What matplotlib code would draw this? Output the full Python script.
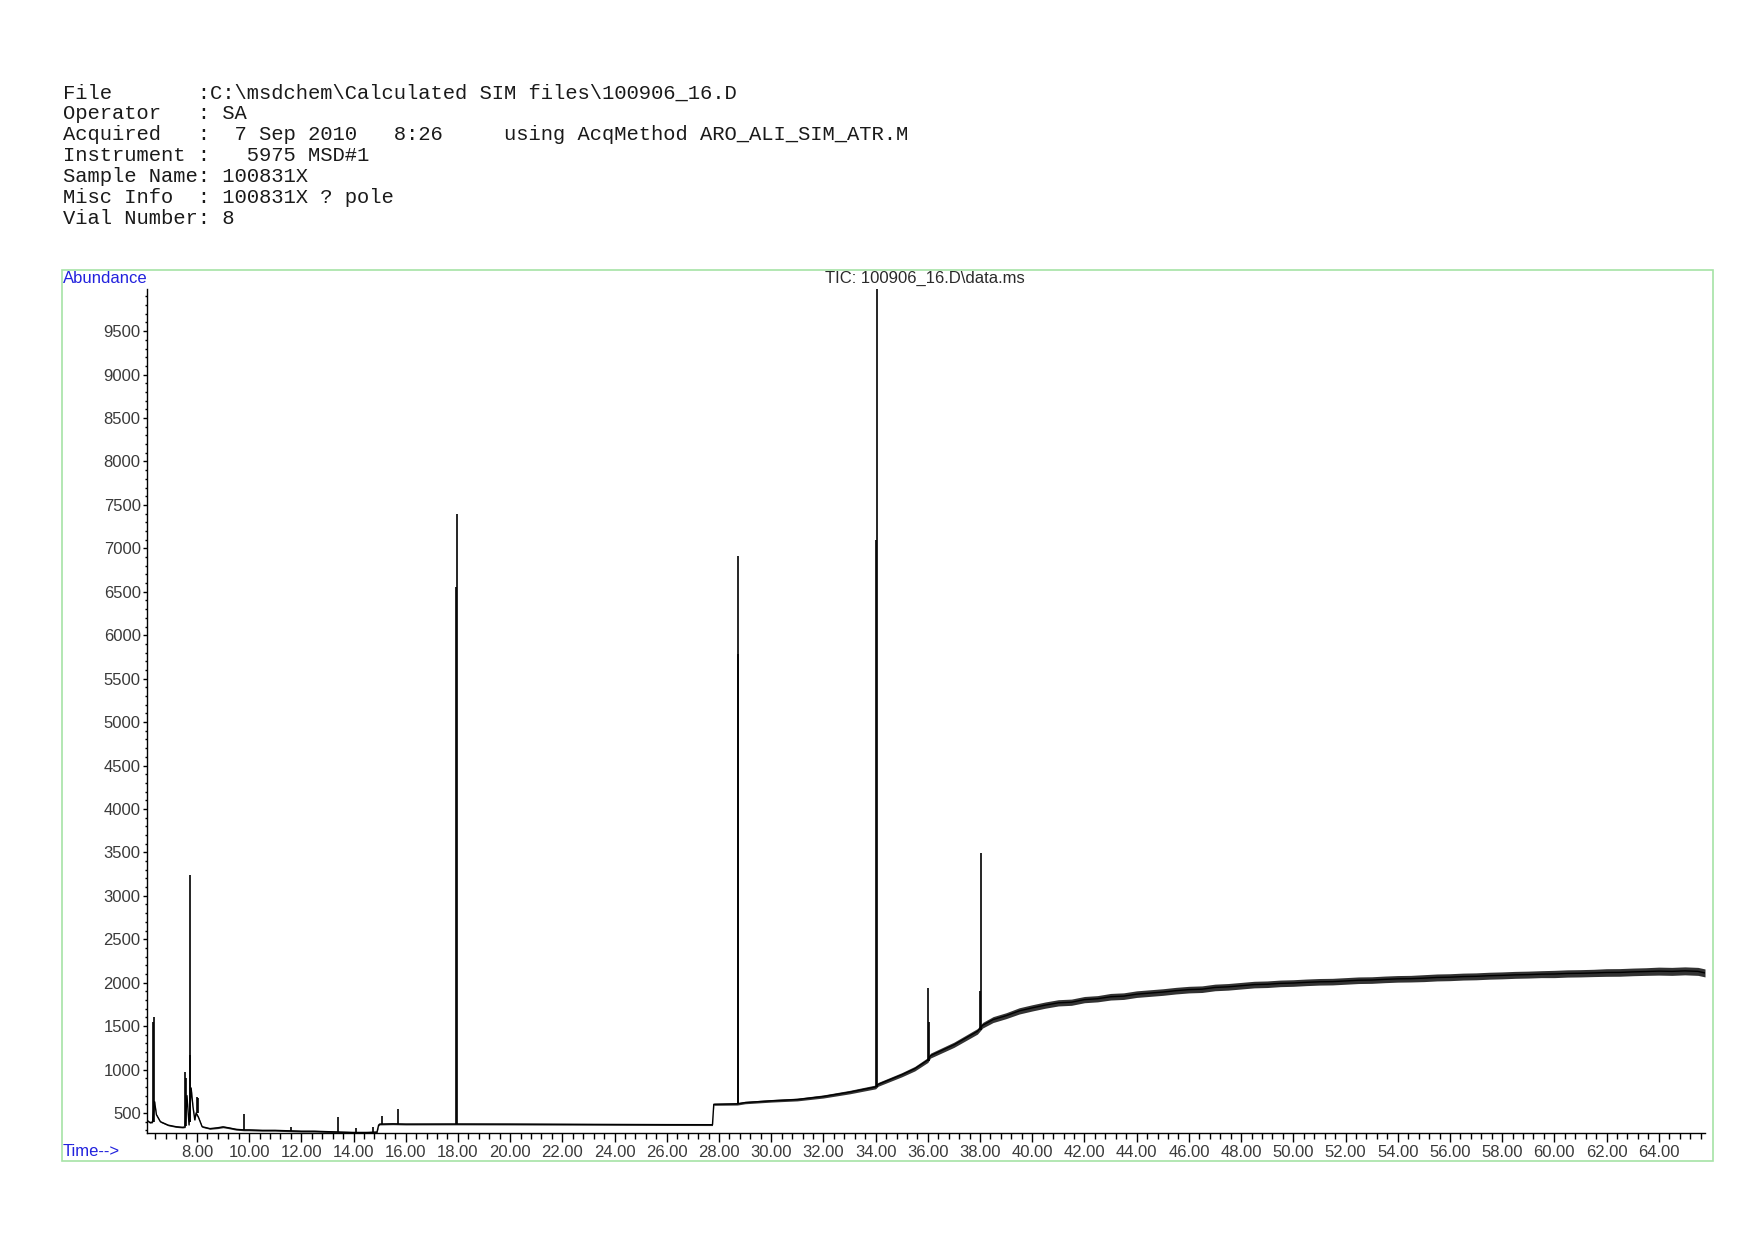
import matplotlib
matplotlib.use("Agg")
import matplotlib.pyplot as plt
from matplotlib.ticker import MultipleLocator, FixedLocator, FixedFormatter
from matplotlib.patches import Rectangle
import numpy as np

# ---------------- data ----------------
header_lines = [
    "File       :C:\\msdchem\\Calculated SIM files\\100906_16.D",
    "Operator   : SA",
    "Acquired   :  7 Sep 2010   8:26     using AcqMethod ARO_ALI_SIM_ATR.M",
    "Instrument :   5975 MSD#1",
    "Sample Name: 100831X",
    "Misc Info  : 100831X ? pole",
    "Vial Number: 8",
]
trace_title = "TIC: 100906_16.D\\data.ms"

# baseline of the total ion chromatogram (time in min, abundance)
base_time = [6.07, 6.20, 6.30, 6.38, 6.45, 6.60, 6.90, 7.20, 7.45, 7.55, 7.62, 7.70,
             7.78, 7.85, 7.92, 7.97, 8.06, 8.20, 8.50, 8.80, 9.00, 9.20, 9.50, 9.80,
             10.0, 10.5, 11.0, 11.5, 12.0, 12.5, 13.0, 13.5, 14.0, 14.5, 14.90, 14.96,
             15.0, 15.5, 16.0, 18.0, 20.0, 22.0, 24.0, 26.0, 27.75, 27.80, 28.7, 29.0,
             30.0, 31.0, 32.0, 33.0, 34.0, 34.1, 35.0, 35.5, 36.0, 36.1, 37.0, 37.9,
             38.1, 38.5, 39.0, 39.5, 40.0, 40.5, 41.0, 41.5, 42.0, 42.5, 43.0, 43.5,
             44.0, 44.5, 45.0, 45.5, 46.0, 46.5, 47.0, 47.5, 48.0, 48.5, 49.0, 49.5,
             50.0, 50.5, 51.0, 51.5, 52.0, 52.5, 53.0, 53.5, 54.0, 54.5, 55.0, 55.5,
             56.0, 56.5, 57.0, 57.5, 58.0, 58.5, 59.0, 59.5, 60.0, 60.5, 61.0, 61.5,
             62.0, 62.5, 63.0, 63.5, 64.0, 64.5, 65.0, 65.5, 65.77]
base_abund = [420, 390, 395, 630, 480, 400, 360, 342, 335, 340, 700, 362,
              788, 572, 420, 500, 450, 342, 320, 330, 340, 330, 312, 305,
              305, 300, 300, 295, 290, 290, 285, 280, 276, 276, 280, 360,
              372, 375, 372, 373, 372, 370, 368, 366, 365, 600, 605, 620,
              640, 655, 690, 740, 800, 830, 940, 1010, 1110, 1160, 1285, 1440,
              1510, 1575, 1620, 1675, 1710, 1742, 1768, 1775, 1805, 1815, 1838, 1845,
              1868, 1880, 1892, 1908, 1920, 1925, 1945, 1952, 1965, 1978, 1982, 1992,
              1996, 2004, 2010, 2012, 2020, 2028, 2030, 2038, 2044, 2046, 2052, 2060,
              2063, 2070, 2073, 2080, 2084, 2090, 2093, 2098, 2100, 2106, 2108, 2112,
              2117, 2118, 2124, 2128, 2133, 2130, 2136, 2130, 2112]
# half width of the noise band around the baseline
noise_half = [8, 8, 8, 8, 8, 8, 8, 8, 8, 8, 8, 8,
              8, 8, 8, 8, 8, 8, 8, 10, 10, 10, 10, 10,
              10, 10, 10, 10, 10, 10, 10, 10, 10, 10, 10, 10,
              10, 10, 10, 10, 10, 10, 10, 10, 10, 12, 14, 14,
              15, 16, 18, 20, 22, 22, 24, 26, 28, 28, 30, 32,
              32, 34, 34, 36, 36, 36, 36, 36, 36, 36, 38, 38,
              38, 38, 38, 38, 38, 38, 38, 38, 38, 38, 38, 38,
              38, 38, 38, 38, 38, 38, 38, 38, 38, 38, 40, 40,
              40, 40, 40, 40, 40, 40, 40, 40, 42, 42, 42, 42,
              44, 44, 44, 44, 46, 46, 46, 46, 46]

# narrow peaks: retention time, foot, apex
peak_time = [6.33, 6.37, 7.56, 7.60, 7.72, 7.75, 7.99, 8.03, 9.82, 11.59, 13.42,
             14.08, 14.76, 15.08, 15.72, 17.93, 17.95, 28.71, 28.74, 34.03, 34.06,
             36.02, 36.05, 37.99, 38.02]
peak_foot = [400, 400, 350, 350, 400, 400, 500, 500, 305, 295, 285,
             276, 280, 375, 375, 375, 375, 600, 600, 800, 800,
             1100, 1100, 1450, 1450]
peak_apex = [1550, 1600, 975, 900, 1167, 3242, 688, 669, 485, 342, 457,
             324, 342, 466, 546, 6550, 7401, 5780, 6912, 7100, 10500,
             1942, 1551, 1900, 3487]

x_major = [8, 10, 12, 14, 16, 18, 20, 22, 24, 26, 28, 30, 32, 34, 36, 38, 40,
           42, 44, 46, 48, 50, 52, 54, 56, 58, 60, 62, 64]
y_major = [500, 1000, 1500, 2000, 2500, 3000, 3500, 4000, 4500, 5000, 5500,
           6000, 6500, 7000, 7500, 8000, 8500, 9000, 9500]

# ---------------- figure ----------------
W, H = 1754, 1240
fig = plt.figure(figsize=(W / 100, H / 100), dpi=100)
fig.patch.set_facecolor("white")

sans = ["Liberation Sans", "DejaVu Sans"]
mono = ["Liberation Mono", "DejaVu Sans Mono"]

# header block
for i, line in enumerate(header_lines):
    fig.text(62.6 / W, 1 - (92.8 + i * 20.9) / H, line, family=mono, fontsize=14.8,
             color="#1a1a1a", ha="left", va="center")

# green frame
fig.patches.append(Rectangle((61.5 / W, 1 - 1161 / H), (1712.6 - 61.5) / W,
                             (1161 - 269.6) / H, transform=fig.transFigure,
                             fill=False, edgecolor="#a6e3a6", linewidth=1.2))

ax_l, ax_r, ax_t, ax_b = 146.5, 1705.0, 288.6, 1133.3
ax = fig.add_axes([ax_l / W, 1 - ax_b / H, (ax_r - ax_l) / W, (ax_b - ax_t) / H])
ax.set_facecolor("none")

bt = np.array(base_time)
ba = np.array(base_abund)
nh = np.array(noise_half)
ax.fill_between(bt, ba - nh, ba + nh, color="#333333", linewidth=0)
ax.plot(bt, ba, color="black", linewidth=1.0)
ax.vlines(peak_time, peak_foot, peak_apex, color="black", linewidth=1.2)

ax.set_xlim(6.07, 65.77)
ax.set_ylim(266, 9990)

for s in ("top", "right"):
    ax.spines[s].set_visible(False)
for s in ("left", "bottom"):
    ax.spines[s].set_color("black")
    ax.spines[s].set_linewidth(1.0)

ax.xaxis.set_major_locator(FixedLocator(x_major))
ax.xaxis.set_major_formatter(FixedFormatter(["%.2f" % v for v in x_major]))
ax.xaxis.set_minor_locator(MultipleLocator(0.4))
ax.yaxis.set_major_locator(FixedLocator(y_major))
ax.yaxis.set_major_formatter(FixedFormatter(["%d" % v for v in y_major]))
ax.yaxis.set_minor_locator(MultipleLocator(100))

ax.tick_params(axis="x", which="major", direction="out", length=6.5, width=1.0,
               pad=2, labelsize=12, labelcolor="#3a3a3a", color="black")
ax.tick_params(axis="x", which="minor", direction="out", length=4, width=1.0,
               color="black")
ax.tick_params(axis="y", which="major", direction="out", length=3.2, width=1.0,
               pad=1, labelsize=12, labelcolor="#3a3a3a", color="black")
ax.tick_params(axis="y", which="minor", direction="out", length=1.8, width=1.0,
               color="black")
for lab in ax.get_xticklabels() + ax.get_yticklabels():
    lab.set_family(sans)

fig.text(62.6 / W, 1 - 278.5 / H, "Abundance", family=sans, fontsize=12,
         color="#2222dd", ha="left", va="center")
fig.text(62.6 / W, 1 - 1152 / H, "Time-->", family=sans, fontsize=12,
         color="#2222dd", ha="left", va="center")
fig.text(925 / W, 1 - 278.5 / H, trace_title, family=sans, fontsize=12,
         color="#2a2a2a", ha="center", va="center")

fig.savefig("out.png", dpi=100, facecolor="white")
